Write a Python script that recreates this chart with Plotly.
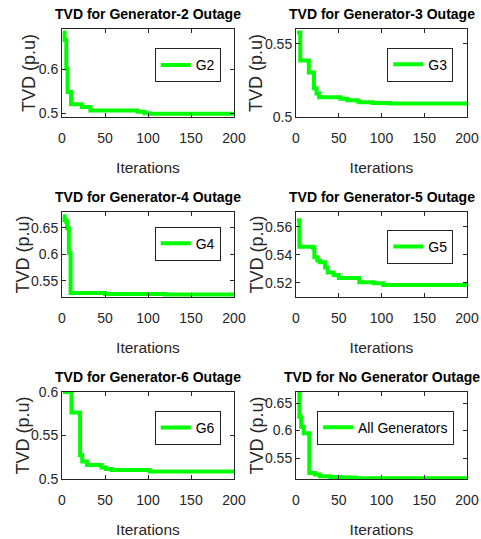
import plotly.graph_objects as go

# ---------------- data ----------------
titles = ["TVD for Generator-2 Outage", "TVD for Generator-3 Outage",
          "TVD for Generator-4 Outage", "TVD for Generator-5 Outage",
          "TVD for Generator-6 Outage", "TVD for No Generator Outage"]
names = ["G2", "G3", "G4", "G5", "G6", "All Generators"]
x_title = "Iterations"
y_title = "TVD (p.u)"

g2_it = [1, 3, 5, 6.5, 10.5, 23, 33, 88, 96, 102, 200]
g2_tvd = [0.683, 0.666, 0.601, 0.548, 0.520, 0.5137, 0.506, 0.503, 0.4995, 0.4985, 0.4985]

g3_it = [1, 5, 15, 21, 24, 27, 52, 60, 72, 75, 90, 110, 200]
g3_tvd = [0.5576, 0.5385, 0.5304, 0.5196, 0.516, 0.5134, 0.5125, 0.5115, 0.5105, 0.510, 0.5095, 0.5092, 0.5092]

g4_it = [1, 3, 5, 6, 8, 10, 50, 120, 200]
g4_tvd = [0.672, 0.665, 0.661, 0.649, 0.602, 0.5266, 0.5245, 0.5235, 0.5235]

g5_it = [1, 4, 20, 21.5, 25, 28, 34, 37, 44, 50, 74, 91, 102, 200]
g5_tvd = [0.5647, 0.5459, 0.545, 0.5384, 0.536, 0.5347, 0.531, 0.5275, 0.5256, 0.5235, 0.5205, 0.5198, 0.5186, 0.5186]

g6_it = [1, 11, 21, 23.5, 29, 46, 51, 58, 102, 200]
g6_tvd = [0.600, 0.5765, 0.5277, 0.520, 0.5162, 0.5133, 0.5114, 0.5104, 0.5085, 0.5085]

gall_it = [1, 4, 6, 9, 15.5, 22, 28, 40, 52, 70, 200]
gall_tvd = [0.675, 0.625, 0.607, 0.595, 0.523, 0.520, 0.517, 0.5155, 0.5145, 0.5135, 0.5135]

x_ticks = [0, 50, 100, 150, 200]
x_ticktext = ["0", "50", "100", "150", "200"]
y_ticks = [[0.5, 0.6], [0.5, 0.55], [0.55, 0.6, 0.65],
           [0.52, 0.54, 0.56], [0.5, 0.55, 0.6], [0.55, 0.6, 0.65]]
y_ticktext = [["0.5", "0.6"], ["0.5", "0.55"], ["0.55", "0.6", "0.65"],
              ["0.52", "0.54", "0.56"], ["0.5", "0.55", "0.6"], ["0.55", "0.6", "0.65"]]
y_ranges = [[0.491, 0.691], [0.5, 0.56], [0.519, 0.68],
            [0.51, 0.5706], [0.5, 0.6], [0.512, 0.67]]

series_it = [g2_it, g3_it, g4_it, g5_it, g6_it, gall_it]
series_tvd = [g2_tvd, g3_tvd, g4_tvd, g5_tvd, g6_tvd, gall_tvd]

# ---------------- layout ----------------
W, H = 481, 539
FONT = "Liberation Sans, Arial, sans-serif"
INK = "#262626"
cols = [(62, 234), (296, 467)]
rows = [(29, 117), (212, 297), (392, 479)]
ytitle_gap = [33, 40, 40, 40, 40, 40]
legend_px = [(220.7, 48.3), (453.3, 47.7), (220.7, 226.7),
             (453.3, 230.0), (220.7, 411.0), (454.0, 410.7)]

fig = go.Figure()
layout = dict(width=W, height=H, margin=dict(l=0, r=0, t=0, b=0),
              paper_bgcolor="white", plot_bgcolor="white", annotations=[])

for i in range(6):
    r, c = divmod(i, 2)
    x0, x1 = cols[c]
    t, b = rows[r]
    sfx = "" if i == 0 else str(i + 1)
    lg = "legend" + sfx
    fig.add_trace(go.Scatter(x=series_it[i], y=series_tvd[i], mode="lines",
                             line=dict(color="#00FF00", width=4, shape="hv"),
                             name=names[i], xaxis="x" + sfx, yaxis="y" + sfx,
                             legend=lg, showlegend=True))
    common = dict(showline=True, linecolor=INK, linewidth=1, mirror="ticks",
                  ticks="inside", ticklen=4, tickcolor=INK, showgrid=False,
                  zeroline=False, automargin=False,
                  tickfont=dict(family=FONT, size=14, color=INK))
    layout["xaxis" + sfx] = dict(common, domain=[x0 / W, x1 / W], range=[0, 200],
                                 anchor="y" + sfx, tickvals=x_ticks, ticktext=x_ticktext,
                                 ticklabelstandoff=8,
                                 title=dict(text=x_title, standoff=17,
                                            font=dict(family=FONT, size=15.5, color=INK)))
    layout["yaxis" + sfx] = dict(common, domain=[1 - b / H, 1 - t / H], range=y_ranges[i],
                                 anchor="x" + sfx, tickvals=y_ticks[i], ticktext=y_ticktext[i])
    # y-axis title
    layout["annotations"].append(dict(text=y_title, textangle=-90,
                                      x=(x0 - ytitle_gap[i]) / W, y=1 - (t + b) / 2 / H,
                                      xref="paper", yref="paper", xanchor="center",
                                      yanchor="middle", showarrow=False,
                                      font=dict(family=FONT, size=18, color=INK)))
    lx, ly = legend_px[i]
    layout[lg] = dict(x=lx / W, y=1 - ly / H, xanchor="right", yanchor="top",
                      bgcolor="white", bordercolor=INK, borderwidth=1,
                      font=dict(family=FONT, size=14, color="#000000"),
                      xref="paper", yref="paper")
    layout["annotations"].append(dict(text="<b>" + titles[i] + "</b>", x=(x0 + x1) / 2 / W,
                                      y=1 - (t - 15) / H, xref="paper", yref="paper",
                                      xanchor="center", yanchor="middle", showarrow=False,
                                      font=dict(family=FONT, size=14, color="#000000")))

fig.update_layout(**layout)
fig.write_html("out.html")
